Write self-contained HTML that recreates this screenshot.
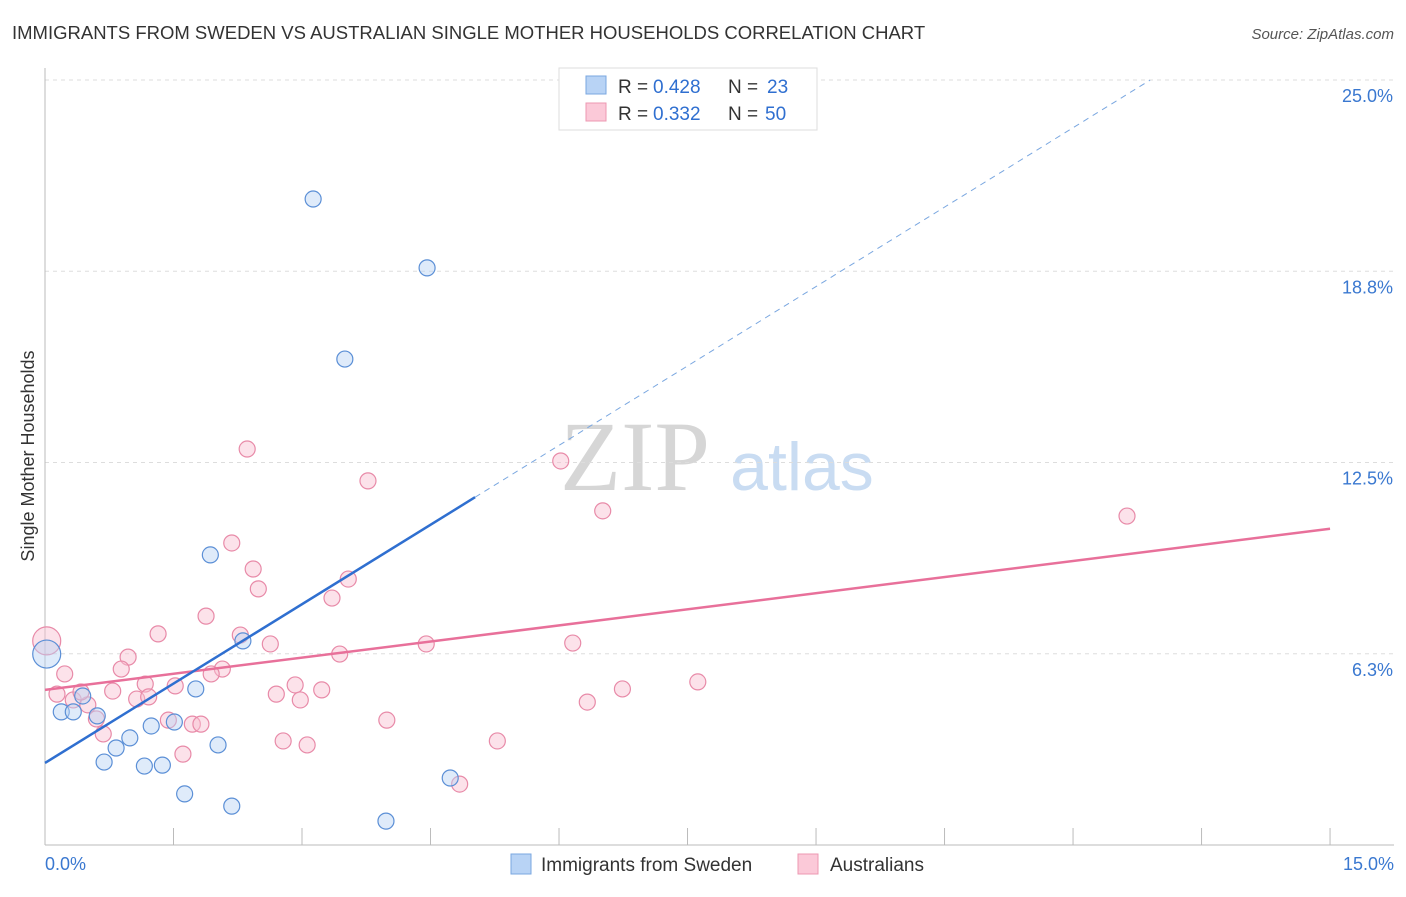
<!DOCTYPE html>
<html><head><meta charset="utf-8"><style>
body{margin:0;background:#fff;font-family:"Liberation Sans",sans-serif;}
</style></head><body>
<svg width="1406" height="892" xmlns="http://www.w3.org/2000/svg" id="svg" style="font-family:'Liberation Sans',sans-serif">
<text x="12" y="39" font-size="18.5" fill="#333">IMMIGRANTS FROM SWEDEN VS AUSTRALIAN SINGLE MOTHER HOUSEHOLDS CORRELATION CHART</text>
<text x="1394" y="39" font-size="15" fill="#555" font-style="italic" text-anchor="end">Source: ZipAtlas.com</text>
<text x="34" y="456" font-size="18" fill="#333" text-anchor="middle" transform="rotate(-90 34 456)">Single Mother Households</text>
<text x="635" y="490" font-size="100" fill="#d6d6d6" font-family="Liberation Serif" text-anchor="middle">ZIP</text>
<text x="802" y="490" font-size="68" fill="#c9dcf2" text-anchor="middle">atlas</text>
<g id="grid"></g><g id="marks"></g>
<g>
<rect x="559" y="68" width="258" height="62" fill="#fff" stroke="#ddd"/>
<rect x="586" y="76" width="20" height="18" fill="#b8d3f5" stroke="#7aa7e0"/>
<rect x="586" y="103" width="20" height="18" fill="#fbc9d8" stroke="#ec98b2"/>
<text x="618" y="93" font-size="19" fill="#333">R =</text>
<text x="653" y="93" font-size="19" fill="#2f6fd0">0.428</text>
<text x="728" y="93" font-size="19" fill="#333">N =</text>
<text x="767" y="93" font-size="19" fill="#2f6fd0">23</text>
<text x="618" y="120" font-size="19" fill="#333">R =</text>
<text x="653" y="120" font-size="19" fill="#2f6fd0">0.332</text>
<text x="728" y="120" font-size="19" fill="#333">N =</text>
<text x="765" y="120" font-size="19" fill="#2f6fd0">50</text>
</g>
<g>
<rect x="511" y="854" width="20" height="20" fill="#b8d3f5" stroke="#7aa7e0"/>
<text x="541" y="871" font-size="19" fill="#333">Immigrants from Sweden</text>
<rect x="798" y="854" width="20" height="20" fill="#fbc9d8" stroke="#ec98b2"/>
<text x="830" y="871" font-size="19" fill="#333">Australians</text>
</g>
</svg>
<script>
const yTicks=[6.25,12.5,18.75,25];
const yTickLabels=["6.3%","12.5%","18.8%","25.0%"];
const xTickCount=10;
const blueX=[3.13,4.46,3.50,1.93,2.31,1.76,0.44,0.19,0.33,0.61,1.24,1.51,0.99,0.83,2.02,0.69,1.16,1.37,1.63,2.18,3.98,4.73,0.02];
const blueY=[21.11,18.86,15.88,9.48,6.67,5.10,4.87,4.35,4.35,4.22,3.89,4.02,3.50,3.17,3.27,2.71,2.58,2.61,1.67,1.27,0.78,2.19,6.24];
const pinkX=[2.36,3.77,6.02,6.51,12.63,2.18,2.43,2.49,3.54,3.35,1.88,1.32,2.28,2.63,3.44,4.45,6.16,0.97,0.89,0.23,2.07,1.94,1.17,1.52,0.79,0.14,2.92,3.23,2.70,2.98,1.07,1.21,0.33,0.50,6.33,6.74,7.62,0.60,1.44,1.72,1.82,3.99,0.68,2.78,3.06,1.61,5.28,4.84,0.02,0.42];
const pinkY=[12.94,11.90,12.55,10.92,10.75,9.87,9.02,8.37,8.69,8.07,7.48,6.90,6.86,6.57,6.24,6.57,6.60,6.14,5.75,5.59,5.75,5.59,5.26,5.20,5.03,4.93,5.23,5.07,4.93,4.74,4.77,4.84,4.74,4.58,4.67,5.10,5.33,4.12,4.08,3.95,3.95,4.08,3.63,3.40,3.27,2.97,3.40,1.99,6.67,5.00];
const blueTrend=[2.68,1.73];
const pinkTrend=[5.07,0.351];
const X=v=>45+v*85.67, Y=v=>845-v*30.6;
const NS="http://www.w3.org/2000/svg";
function mk(p,t,a){const e=document.createElementNS(NS,t);for(const k in a)e.setAttribute(k,a[k]);p.appendChild(e);return e;}
const g=document.getElementById('grid'),m=document.getElementById('marks');
yTicks.forEach((t,i)=>{
 const l=mk(g,'line',{x1:45,x2:1394,y1:Y(t),y2:Y(t),stroke:'#ddd','stroke-dasharray':'4,4'});
 
 
 const tx=mk(g,'text',{x:1393,y:Y(t)+22,'font-size':18,fill:'#3a78d0','text-anchor':'end'});
 tx.textContent=yTickLabels[i];
 
 
});
mk(g,'line',{x1:45,x2:45,y1:68,y2:845,stroke:'#bbb'});
mk(g,'line',{x1:45,x2:1394,y1:845,y2:845,stroke:'#bbb'});
for(let i=1;i<=xTickCount;i++){const t=mk(g,'line',{x1:X(i*1.5),x2:X(i*1.5),y1:828,y2:845,stroke:'#bbb'});
 
 }
let a=mk(g,'text',{x:45,y:870,'font-size':18,fill:'#3a78d0'});a.textContent='0.0%';

a=mk(g,'text',{x:1394,y:870,'font-size':18,fill:'#3a78d0','text-anchor':'end'});a.textContent='15.0%';

function dots(xs,ys,fill,stroke,name){xs.forEach((x,i)=>{const big=(x<0.05);
 const c=mk(m,'circle',{cx:X(x),cy:Y(ys[i]),r:big?14:8,fill:fill,'fill-opacity':0.45,stroke:stroke,'stroke-width':1.2});
 
 });}
dots(pinkX,pinkY,'#f9bfd0','#e88aa8','australians-point');
dots(blueX,blueY,'#b8d3f5','#5b8fd6','sweden-point');
let ln=mk(m,'line',{x1:X(0),y1:Y(pinkTrend[0]),x2:X(15),y2:Y(pinkTrend[0]+pinkTrend[1]*15),stroke:'#e8709a','stroke-width':2.5});

ln=mk(m,'line',{x1:X(0),y1:Y(blueTrend[0]),x2:X(5.02),y2:Y(blueTrend[0]+blueTrend[1]*5.02),stroke:'#2f6fd0','stroke-width':2.5});

ln=mk(m,'line',{x1:X(5.02),y1:Y(blueTrend[0]+blueTrend[1]*5.02),x2:X(12.9),y2:Y(blueTrend[0]+blueTrend[1]*12.9),stroke:'#7aa7e0','stroke-width':1,'stroke-dasharray':'6,5'});

</script>
</body></html>
